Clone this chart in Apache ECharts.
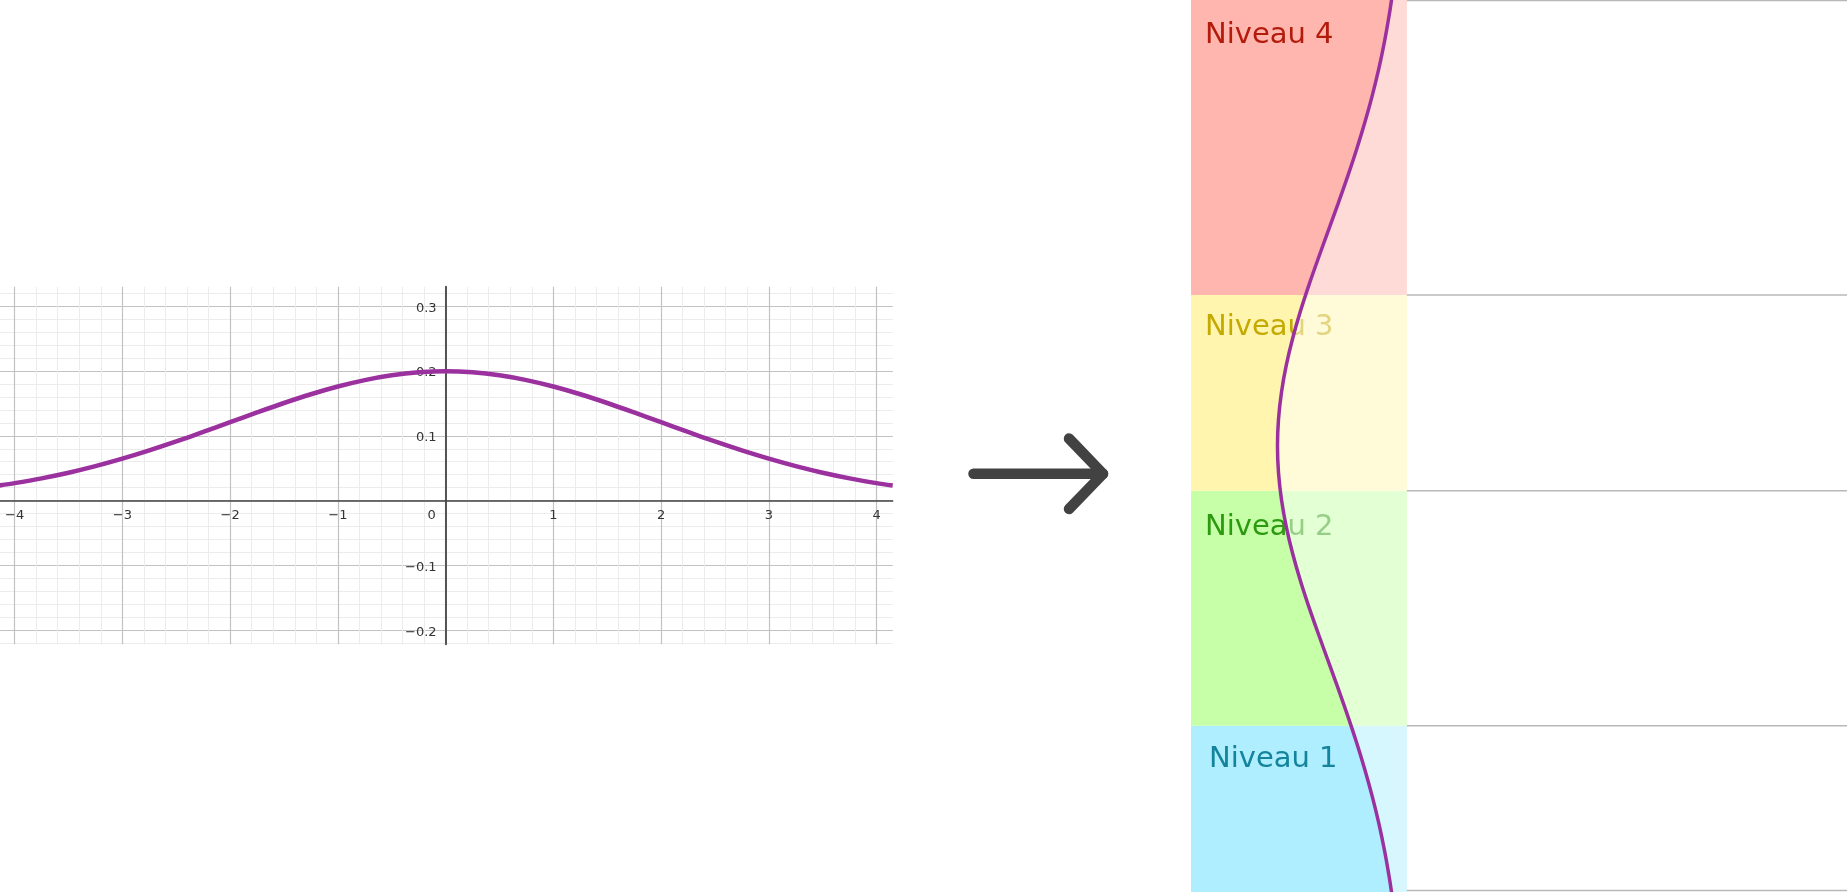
<!DOCTYPE html>
<html>
<head>
<meta charset="utf-8">
<script src="https://cdn.jsdelivr.net/npm/echarts@6/dist/echarts.min.js"></script>
<style>
html,body{margin:0;padding:0;background:#fff;}
#chart{width:1847px;height:892px;}
</style>
</head>
<body>
<div id="chart"></div>
<script>
// ---- data ----
const xValues = [-4.15,-4,-3.75,-3.5,-3.25,-3,-2.75,-2.5,-2.25,-2,-1.75,-1.5,-1.25,-1,-0.75,-0.5,-0.25,0,
                 0.25,0.5,0.75,1,1.25,1.5,1.75,2,2.25,2.5,2.75,3,3.25,3.5,3.75,4,4.15];
const density = [0.0232,0.0270,0.0344,0.0431,0.0533,0.0648,0.0775,0.0913,0.1059,0.1210,0.1360,0.1506,0.1641,0.1760,0.1859,0.1933,0.1979,0.1995,
                 0.1979,0.1933,0.1859,0.1760,0.1641,0.1506,0.1360,0.1210,0.1059,0.0913,0.0775,0.0648,0.0533,0.0431,0.0344,0.0270,0.0232];
const levelNames = ['Niveau 1','Niveau 2','Niveau 3','Niveau 4'];
const levelBounds = [-4.14,-2.596,-0.415,1.402,4.14];
const xRange = [-4.136, 4.15];
const yRange = [-0.2216, 0.330];

// ---- styles / layout ----
const levelBg = ['#aeeeff','#c6ffa8','#fff5ae','#ffb6ae'];
const levelText = ['#14849c','#2c9a0e','#c4aa00','#b31c0c'];
const labelDx = [18,14,14,14];
const labelDy = [34,36.4,33,35.5];
const purple = '#9b309f';
const FONT = 'DejaVu Sans';
const g0 = {left:0, top:286.7, width:892.7, height:357.6};
const xAxisOffset = -g0.height * (0 - yRange[0]) / (yRange[1] - yRange[0]);
const yAxisOffset = -g0.width * (0 - xRange[0]) / (xRange[1] - xRange[0]);

const chart = echarts.init(document.getElementById('chart'), null, {renderer:'canvas'});
const curve = xValues.map((x,i)=>[x, density[i]]);
const curveRot = xValues.map((x,i)=>[density[i], x]);
const rightMax = 0.333;

const option = {
  animation:false,
  backgroundColor:'#ffffff',
  grid:[
    {left:g0.left, top:g0.top, width:g0.width, height:g0.height, outerBoundsMode:'none', containLabel:false},
    {left:1191, top:0, width:215.7, height:892, outerBoundsMode:'none', containLabel:false}
  ],
  xAxis:[
    {type:'value', gridIndex:0, min:xRange[0], max:xRange[1], splitNumber:8, position:'bottom', offset:xAxisOffset,
     axisLine:{onZero:false, lineStyle:{color:'#444', width:1.5}},
     axisTick:{show:false},
     axisLabel:{showMinLabel:false, showMaxLabel:false, margin:8, color:'#333', fontSize:13, fontFamily:FONT,
       formatter:v=> v===0 ? '{z|0}' : String(v).replace('-','\u2212'),
       rich:{z:{padding:[0,28,0,0], color:'#333', fontSize:13, fontFamily:FONT}}},
     splitLine:{show:true, showMinLine:false, showMaxLine:false, lineStyle:{color:'#c2c2c2', width:1.2}},
     minorTick:{show:false, splitNumber:5},
     minorSplitLine:{show:true, lineStyle:{color:'#ececec', width:1}}
    },
    {type:'value', gridIndex:1, min:0, max:rightMax, inverse:true, show:false,
     splitLine:{show:false}}
  ],
  yAxis:[
    {type:'value', gridIndex:0, min:yRange[0], max:yRange[1], splitNumber:5, position:'left', offset:yAxisOffset,
     axisLine:{onZero:false, lineStyle:{color:'#555', width:2}},
     axisTick:{show:false},
     axisLabel:{showMinLabel:false, showMaxLabel:false, margin:9, color:'#333', fontSize:13, fontFamily:FONT,
       formatter:v=> Math.abs(v)<1e-9 ? '' : '{y|' + v.toFixed(1).replace('-','\u2212') + '}',
       rich:{y:{padding:[4,0,0,0], color:'#333', fontSize:13, fontFamily:FONT}}},
     splitLine:{show:true, showMinLine:false, showMaxLine:false, lineStyle:{color:'#c2c2c2', width:1.2}},
     minorTick:{show:false, splitNumber:5},
     minorSplitLine:{show:true, lineStyle:{color:'#ececec', width:1}}
    },
    {type:'value', gridIndex:1, min:levelBounds[0], max:levelBounds[levelBounds.length-1], show:false,
     splitLine:{show:false}}
  ],
  graphic:[
    {type:'polyline', z:10, shape:{points:[[973.5,473.8],[1103,473.8]]},
     style:{stroke:'#424242', lineWidth:10.5, lineCap:'round', lineJoin:'round', fill:null}},
    {type:'polyline', z:10, shape:{points:[[1069,438.5],[1103,473.8],[1069,509]]},
     style:{stroke:'#424242', lineWidth:10.5, lineCap:'round', lineJoin:'round', fill:null}}
  ],
  series:[
    {type:'line', xAxisIndex:0, yAxisIndex:0, data:curve, smooth:0.3, showSymbol:false,
     lineStyle:{color:purple, width:4.5}, z:5, silent:true},
    {type:'custom', xAxisIndex:1, yAxisIndex:1, z:1, clip:false, silent:true,
     data: levelNames.map((n,i)=>[0, levelBounds[i]]),
     renderItem:(params, api)=>{
       const i = params.dataIndex;
       const lo = levelBounds[i], hi = levelBounds[i+1];
       const pTop = api.coord([rightMax, hi]);
       const pBot = api.coord([0, lo]);
       const W = api.getWidth(), H = api.getHeight();
       const clampY = y => Math.min(Math.max(y, 0.5), H - 1.5);
       const children = [
         {type:'rect', shape:{x:pTop[0], y:pTop[1], width:pBot[0]-pTop[0], height:pBot[1]-pTop[1]},
          style:{fill:levelBg[i]}},
         {type:'text', x:pTop[0]+labelDx[i], y:pTop[1]+labelDy[i],
          style:{text:levelNames[i], fill:levelText[i], font:'29px "'+FONT+'"', verticalAlign:'middle', align:'left'}},
         {type:'line', shape:{x1:pBot[0], y1:clampY(pTop[1]), x2:W, y2:clampY(pTop[1])},
          style:{stroke:'#b8b8b8', lineWidth:1.5}}
       ];
       if (i === 0) {
         children.push({type:'line', shape:{x1:pBot[0], y1:clampY(pBot[1]), x2:W, y2:clampY(pBot[1])},
          style:{stroke:'#b8b8b8', lineWidth:1.5}});
       }
       return {type:'group', children};
     }
    },
    {type:'custom', xAxisIndex:1, yAxisIndex:1, z:3, clip:true, silent:true,
     data:[[0,0]],
     renderItem:(params, api)=>{
       const pts = curveRot.map(p=>api.coord(p));
       pts.push(api.coord([0, xValues[xValues.length-1]]));
       pts.push(api.coord([0, xValues[0]]));
       return {type:'polygon', shape:{points:pts}, style:{fill:'rgba(255,255,255,0.5)'}};
     }
    },
    {type:'line', xAxisIndex:1, yAxisIndex:1, data:curveRot, smooth:0.3, showSymbol:false,
     lineStyle:{color:purple, width:3.5}, z:5, silent:true}
  ]
};
chart.setOption(option);
</script>
</body>
</html>
